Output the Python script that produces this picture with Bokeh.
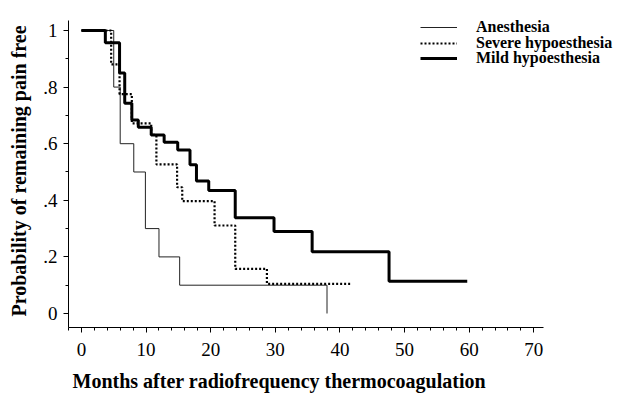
from bokeh.plotting import figure
from bokeh.models import Range1d, FixedTicker, Legend, LegendItem, Title
from bokeh.embed import file_html
from bokeh.resources import INLINE

# ---- data ----
x_ticks = [0, 10, 20, 30, 40, 50, 60, 70]
x_minor_ticks = list(range(-2, 72, 2))
y_ticks = [0.0, 0.2, 0.4, 0.6, 0.8, 1.0]
y_tick_labels = ["0", ".2", ".4", ".6", ".8", "1"]
y_minor_ticks = [0.0, 0.1, 0.2, 0.3, 0.4, 0.5, 0.6, 0.7, 0.8, 0.9, 1.0]

series_names = ["Anesthesia", "Severe hypoesthesia", "Mild hypoesthesia"]

anes_months = [0, 5, 6, 8.1, 9.9, 12, 15.2, 38]
anes_prob = [1.0, 0.8, 0.6, 0.5, 0.3, 0.2, 0.1, 0.0]

severe_months = [0, 4.6, 5.9, 7.8, 10.8, 11.6, 14.8, 15.6, 20.6, 23.8, 28.7, 41.6]
severe_prob = [1.0, 0.88, 0.775, 0.672, 0.631, 0.527, 0.446, 0.397, 0.311, 0.158, 0.105, 0.105]

mild_months = [0, 3.7, 5.9, 6.7, 7.8, 8.8, 10.8, 12.8, 14.9, 16.8, 17.8, 19.7, 23.8, 29.8, 35.7, 47.6, 59.7]
mild_prob = [1.0, 0.957, 0.85, 0.743, 0.684, 0.658, 0.631, 0.605, 0.578, 0.526, 0.468, 0.435, 0.338, 0.29, 0.218, 0.114, 0.114]

x_axis_extent = (-2, 71.5)
y_axis_extent = (-0.0495, 1.0353)

SERIF = "Liberation Serif"

p = figure(
    width=632, height=402,
    x_range=Range1d(-2, 85.27), y_range=Range1d(-0.0495, 1.0565),
    output_backend="svg", toolbar_location=None,
    min_border_left=68, min_border_right=0, min_border_top=14, min_border_bottom=75,
)
p.outline_line_color = None
p.xgrid.grid_line_color = None
p.ygrid.grid_line_color = None
p.background_fill_color = "white"
p.border_fill_color = "white"

r_anes = p.step(anes_months, anes_prob, mode="after", line_color="#222222", line_width=1)
r_sev = p.step(severe_months, severe_prob, mode="after", line_color="black", line_width=2.2, line_dash="2 2")
r_mild = p.step(mild_months, mild_prob, mode="after", line_color="black", line_width=3)

# axes
p.xaxis.ticker = FixedTicker(ticks=x_ticks, minor_ticks=x_minor_ticks)
p.yaxis.ticker = FixedTicker(ticks=y_ticks, minor_ticks=y_minor_ticks)
p.yaxis.major_label_overrides = dict(zip(y_ticks, y_tick_labels))
p.xaxis.bounds = x_axis_extent
p.yaxis.bounds = y_axis_extent

for ax in (p.xaxis[0], p.yaxis[0]):
    ax.axis_line_color = "black"
    ax.axis_line_width = 1
    ax.major_tick_line_color = "black"
    ax.minor_tick_line_color = "black"
    ax.major_tick_in = 0
    ax.major_tick_out = 5
    ax.minor_tick_in = 0
    ax.minor_tick_out = 3
    ax.major_label_text_font = SERIF
    ax.major_label_text_font_size = "19px"
    ax.major_label_text_color = "black"
    ax.axis_label_text_font = SERIF
    ax.axis_label_text_font_style = "bold"
    ax.axis_label_text_font_size = "20px"
    ax.axis_label_text_color = "black"

p.yaxis.axis_label = "Probability of remaining pain free"
p.xaxis.major_label_standoff = 10
p.yaxis.major_label_standoff = 6
p.yaxis.axis_label_standoff = 10

xlabel = Title(
    text="Months after radiofrequency thermocoagulation",
    align="left", offset=4, standoff=19,
    text_font=SERIF, text_font_style="bold", text_font_size="20px", text_color="black",
)
p.add_layout(xlabel, "below")

renderers = [r_anes, r_sev, r_mild]
legend_rows_y = [291, 275.5, 260]
for name, rend, ly in zip(series_names, renderers, legend_rows_y):
    lg = Legend(
        items=[LegendItem(label=name, renderers=[rend])],
        location=(352, ly),
        padding=0, margin=0, spacing=0,
        glyph_width=37, glyph_height=12, label_height=12, label_standoff=19,
        border_line_alpha=0, background_fill_alpha=0,
        label_text_font=SERIF, label_text_font_style="bold", label_text_font_size="16px",
        label_text_color="black",
    )
    p.add_layout(lg)

open("out.html", "w").write(file_html(p, INLINE))
